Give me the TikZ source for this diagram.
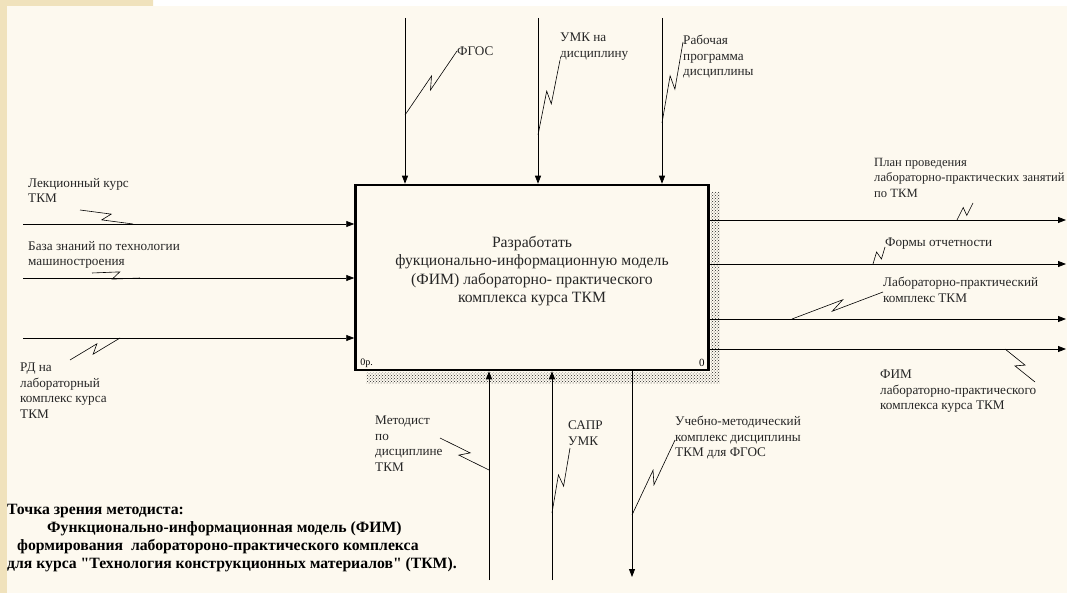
\documentclass[tikz,border=0pt]{standalone}
\usepackage{fontspec}
\setmainfont{Liberation Serif}[Ligatures=TeXOff]
\usepackage{tikz}
\usetikzlibrary{arrows.meta,calc,patterns}
\definecolor{PanelColor}{RGB}{253,249,239}
\definecolor{SlideColor}{RGB}{240,226,188}
\begin{document}
\begin{tikzpicture}[x=1pt,y=-1pt,
  lbl/.style={font=\fontsize{13.2}{15.5}\selectfont,align=left,inner sep=0pt,text=black!85},
  arr/.style={line width=.8pt,-{Triangle[length=8pt,width=6pt]}},
  sq/.style={line width=.6pt,to path={-- ($(\tikztostart)!.57!(\tikztotarget)!4pt!90:(\tikztotarget)$)
     -- ($(\tikztostart)!.43!(\tikztotarget)!4pt!-90:(\tikztotarget)$) -- (\tikztotarget)}},
  func/.style={draw,line width=2.5pt,fill=PanelColor,minimum width=353pt,minimum height=185pt}]
\useasboundingbox (0,0) rectangle (1067,593);
\fill[white] (0,0) rectangle (1067,593);
\fill[SlideColor] (0,0) rectangle (153,6) (0,0) rectangle (7,593);
\fill[PanelColor] (7,6) rectangle (1067,593);
% activity box with its shadow
\node[func] (f0) at (532,277.5) {};
\fill[pattern=crosshatch dots,pattern color=black!85]
   ($(f0.north east)+(1.3,8)$) rectangle ($(f0.south east)+(10,12)$)
   ($(f0.south west)+(12,1.3)$) rectangle ($(f0.south east)+(10,12)$);
\node[align=center,inner sep=0pt,font=\fontsize{15.7}{18.5}\selectfont,text=black!85] (t0) at (532,271)
   {Разработать\\фукционально-информационную модель\\(ФИМ) лабораторно- практического\\комплекса курса ТКМ};
\node[anchor=west,inner sep=0pt,font=\fontsize{10}{10}\selectfont] (n0) at ($(f0.south west)+(6,-8)$) {0р.};
\node[anchor=east,inner sep=0pt,font=\fontsize{11}{11}\selectfont] (n1) at ($(f0.south east)+(-5,-8)$) {0};
% controls
\foreach \x [count=\i] in {405,538,662} {
   \coordinate (c\i) at (\x,18);
   \draw[arr] (c\i) -- (c\i |- f0.north);
}
% inputs
\foreach \y [count=\i] in {224,278,338} {
   \coordinate (i\i) at (23,\y);
   \draw[arr] (i\i) -- (i\i -| f0.west);
}
% outputs
\foreach \y [count=\i] in {220,264,319,349} {
   \coordinate (o\i) at (1066,\y);
   \draw[arr] (o\i -| f0.east) -- (o\i);
}
% mechanisms and call
\foreach \x [count=\i] in {489,552} {
   \coordinate (m\i) at (\x,580);
   \draw[arr] (m\i) -- (m\i |- f0.south);
}
\coordinate (k1) at (632,577);
\draw[arr] (k1 |- f0.south) -- (k1);
% arrow labels
\node[lbl,anchor=north west] (llek) at (28,178) {Лекционный курс\\ТКМ};
\node[lbl,anchor=north west] (lbaz) at (28,241) {База знаний по технологии\\машиностроения};
\node[lbl,anchor=north west] (lrd) at (20,363) {РД на\\лабораторный\\комплекс курса\\ТКМ};
\node[lbl,anchor=west] (lfgos) at (457,51) {ФГОС};
\node[lbl,anchor=north west] (lumk) at (560,33) {УМК на\\дисциплину};
\node[lbl,anchor=north west] (lrab) at (683,35) {Рабочая\\программа\\дисциплины};
\node[lbl,anchor=north west,font=\fontsize{12.6}{15.5}\selectfont] (lplan) at (874,158) {План проведения\\лабораторно-практических занятий\\по ТКМ};
\node[lbl,anchor=west] (lform) at (885,244) {Формы отчетности};
\node[lbl,anchor=north west] (llab) at (883,277) {Лабораторно-практический\\комплекс ТКМ};
\node[lbl,anchor=north west] (lfim) at (880,370) {ФИМ\\лабораторно-практического\\комплекса курса ТКМ};
\node[lbl,anchor=north west] (lmet) at (375,416) {Методист\\по\\дисциплине\\ТКМ};
\node[lbl,anchor=north west] (lsapr) at (568,421) {САПР\\УМК};
\node[lbl,anchor=north west] (lumkd) at (675,416) {Учебно-методический\\комплекс дисциплины\\ТКМ для ФГОС};
% squiggles
\foreach \n/\p/\q in {1/{457,51}/{405,115}, 2/{560,60}/{538,135}, 3/{683,42}/{662,123},
   4/{80,210}/{133,224}, 5/{92,273}/{140,278}, 6/{70,360}/{120,338},
   7/{973,203}/{957,220}, 8/{885,247}/{873,264}, 9/{883,292}/{792,319},
   10/{1035,382}/{1005,349}, 11/{440,438}/{489,470}, 12/{570,448}/{552,513},
   13/{675,440}/{632,515}} {
   \coordinate (p\n) at (\p);
   \coordinate (q\n) at (\q);
   \draw[sq] (p\n) to (q\n);
}
% viewpoint
\node[anchor=north west,align=left,inner sep=0pt,font=\bfseries\fontsize{15.7}{18}\selectfont] (view) at (7,504)
   {Точка зрения методиста:\\
    \hspace*{40pt}Функционально-информационная модель (ФИМ)\\
    \hspace*{10pt}формирования\ \ лаборатороно-практического комплекса\\
    для курса "Технология конструкционных материалов" (ТКМ).};
\end{tikzpicture}
\end{document}
